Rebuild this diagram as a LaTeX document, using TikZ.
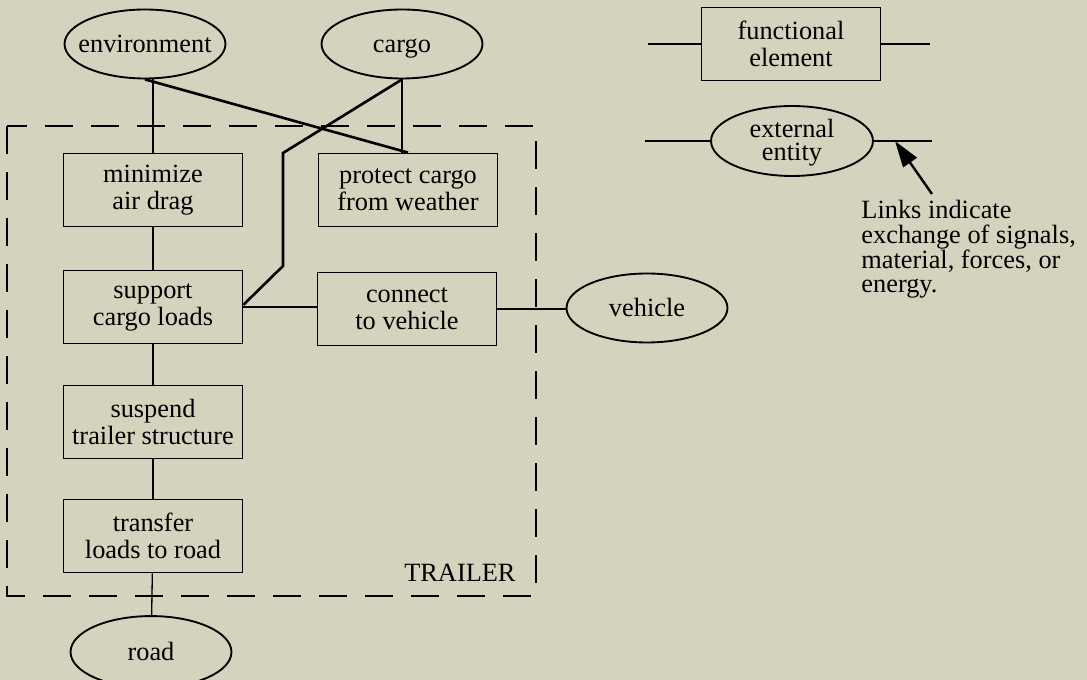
\documentclass[tikz,border=0pt]{standalone}
\usepackage{fontspec}
\setmainfont{Liberation Serif}
\usetikzlibrary{shapes.geometric,arrows.meta}
\definecolor{paper}{RGB}{212,211,190}
\tikzset{
  funcbox/.style={draw, line width=0.85pt, rectangle, align=center,
    minimum width=2.864cm, minimum height=1.168cm, inner sep=0pt,
    font=\fontsize{12}{12.3}\selectfont},
  entity/.style={draw, line width=0.85pt, ellipse, inner sep=0pt,
    minimum width=2.576cm, minimum height=1.104cm,
    font=\fontsize{12}{12.3}\selectfont},
  link/.style={line width=0.6pt},
  heavylink/.style={line width=1.2pt},
}
\newcommand{\inell}[1]{\makebox[0pt]{\rule[-2.6pt]{0pt}{13.4pt}#1}}
\begin{document}
\begin{tikzpicture}[x=0.016cm,y=-0.016cm]
\useasboundingbox (0,0) rectangle (1087,680);
\fill[paper] (0,0) rectangle (1087,680);

% trailer boundary
\draw[line width=0.6pt, dash pattern=on 12.75pt off 8.2pt] (7,126) rectangle (536,596);
\node[anchor=east, inner sep=0pt, font=\fontsize{12}{12.3}\selectfont] (trailer) at (516,573) {TRAILER};

% external entities
\node[entity] (env) at (145,44) {\inell{environment}};
\node[entity] (cargo) at (402,44) {\inell{cargo}};
\node[entity] (vehicle) at (647,308) {\inell{vehicle}};
\node[entity, minimum height=1.15cm] (road) at (151,652) {\inell{road}};

% functional elements
\node[funcbox] (minimize) at (153,190) {minimize\\air drag};
\node[funcbox] (protect) at (408,190) {protect cargo\\from weather};
\node[funcbox] (support) at (153,307) {support\\cargo loads};
\node[funcbox] (connect) at (407,309) {connect\\to vehicle};
\node[funcbox] (suspend) at (153,422) {suspend\\trailer structure};
\node[funcbox] (transfer) at (153,536) {transfer\\loads to road};

% links
\draw[link] (env.south -| minimize.north) -- (minimize.north);
\draw[heavylink] (env.south) -- (protect.north);
\draw[link] (cargo.south) -- (cargo.south |- protect.north);
\coordinate (bendtop) at (283,153);
\coordinate (bendlow) at (283,266);
\draw[heavylink] (cargo.south) -- (bendtop) -- (bendlow) -- ([yshift=1pt]support.east);
\draw[link] (minimize) -- (support);
\draw[link] (support.east) -- (support.east -| connect.west);
\draw[link] (connect.east) -- (connect.east -| vehicle.west);
\draw[link] (support) -- (suspend);
\draw[link] (suspend) -- (transfer);
\draw[link] (transfer) -- (road);

% legend
\node[funcbox] (felem) at (791,44) {functional\\element};
\coordinate (fleft) at (648,44);
\coordinate (fright) at (930,44);
\draw[link] (fleft) -- (felem.west);
\draw[link] (felem.east) -- (fright);
\node[entity, minimum width=2.592cm, minimum height=1.12cm] (xent) at (792,141)
  {\inell{\smash{\begin{tabular}{@{}c@{}}external\\[-2pt]entity\end{tabular}}}};
\coordinate (eleft) at (645,141);
\coordinate (eright) at (932,141);
\draw[link] (eleft) -- (xent.west);
\draw[link] (xent.east) -- (eright);
\node[anchor=base west, align=left, inner sep=0pt,
  font=\fontsize{12}{11.3}\selectfont] (note) at (861,293)
  {Links indicate\\exchange of signals,\\material, forces, or\\energy.};
\coordinate (tail) at (932,194);
\coordinate (tip) at (895,141);
\draw[line width=1.1pt, -{Triangle[length=12pt,width=7.5pt]}] (tail) -- (tip);
\end{tikzpicture}
\end{document}
